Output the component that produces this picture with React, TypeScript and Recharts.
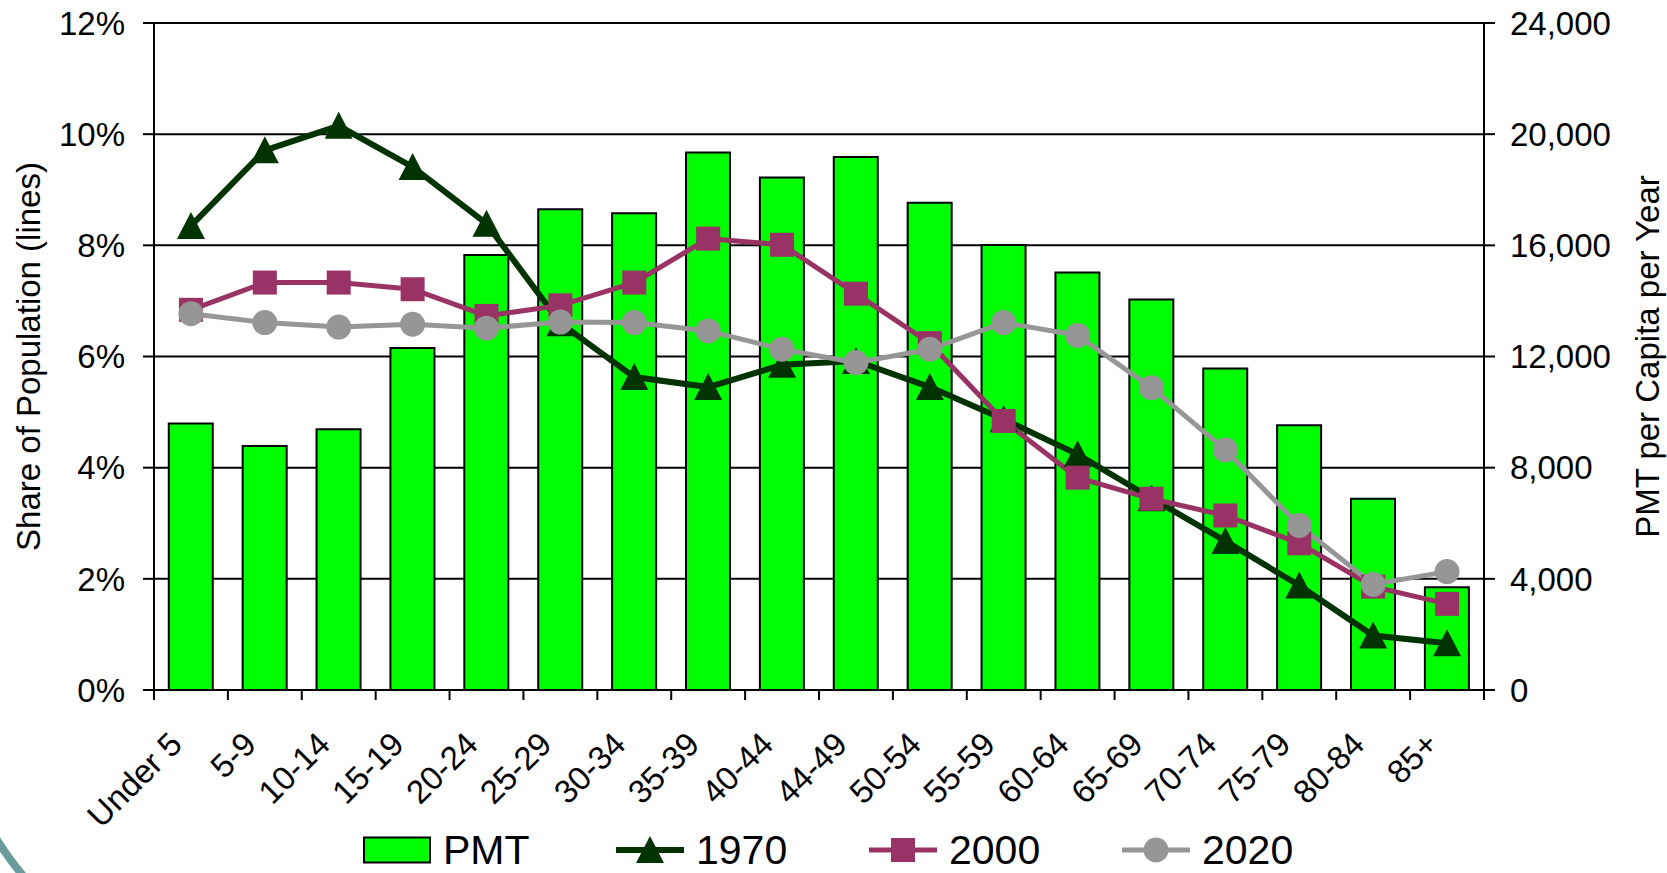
import React from "react";
import {
  ComposedChart,
  Bar,
  Line,
  XAxis,
  YAxis,
  CartesianGrid,
  Legend,
} from "recharts";

const categories = [
  "Under 5", "5-9", "10-14", "15-19", "20-24", "25-29", "30-34", "35-39", "40-44",
  "44-49", "50-54", "55-59", "60-64", "65-69", "70-74", "75-79", "80-84", "85+",
];
// PMT per capita per year (bars, right axis)
const pmt = [
  9590, 8780, 9380, 12310, 15650, 17300, 17150, 19340, 18440,
  19180, 17530, 16010, 15020, 14050, 11570, 9530, 6880, 3700,
];
// share of population, % (lines, left axis)
const share1970 = [
  8.35, 9.71, 10.15, 9.41, 8.39, 6.6, 5.63, 5.45, 5.85,
  5.92, 5.45, 4.87, 4.24, 3.45, 2.68, 1.88, 0.98, 0.84,
];
const share2000 = [
  6.84, 7.33, 7.33, 7.21, 6.73, 6.92, 7.33, 8.12, 8.01,
  7.13, 6.24, 4.84, 3.82, 3.44, 3.14, 2.64, 1.86, 1.55,
];
const share2020 = [
  6.77, 6.61, 6.53, 6.58, 6.51, 6.62, 6.61, 6.46, 6.13,
  5.89, 6.13, 6.61, 6.38, 5.44, 4.32, 2.96, 1.9, 2.13,
];
const leftTicks = [0, 2, 4, 6, 8, 10, 12];
const rightTicks = [0, 4000, 8000, 12000, 16000, 20000, 24000];

const data = categories.map((age, i) => ({
  age,
  pmt: pmt[i],
  y1970: share1970[i],
  y2000: share2000[i],
  y2020: share2020[i],
}));

const W = 1667;
const H = 873;
const LEFT_W = 154;
const RIGHT_W = 183;
const BAND = (W - LEFT_W - RIGHT_W) / categories.length;
const FONT = '"Liberation Sans", Arial, sans-serif';
const AXIS_FONT = 33;

const C1970 = "#003300";
const C2000 = "#993366";
const C2020 = "#969696";
const GREEN = "#00ff00";

const triangle = (cx: number, cy: number, fill: string, key?: any) => (
  <path
    key={key}
    d={`M${cx},${cy - 14} L${cx + 14},${cy + 13} L${cx - 14},${cy + 13} Z`}
    fill={fill}
  />
);
const square = (cx: number, cy: number, fill: string, key?: any) => (
  <rect key={key} x={cx - 12} y={cy - 12} width={24} height={24} fill={fill} />
);
const circle = (cx: number, cy: number, fill: string, key?: any) => (
  <circle key={key} cx={cx} cy={cy} r={12.5} fill={fill} />
);

function XTick(props: any) {
  const { x, y, payload, index } = props;
  const ax = x - 15;
  const ay = y + 48;
  return (
    <g>
      <line x1={x - BAND / 2} x2={x - BAND / 2} y1={y} y2={y + 10} stroke="#000" strokeWidth={2} />
      {index === categories.length - 1 && (
        <line x1={x + BAND / 2} x2={x + BAND / 2} y1={y} y2={y + 10} stroke="#000" strokeWidth={2} />
      )}
      <text
        x={ax}
        y={ay}
        dy="0.35em"
        textAnchor="end"
        transform={`rotate(-45, ${ax}, ${ay})`}
        fontSize={AXIS_FONT}
        fontFamily={FONT}
        fill="#000"
      >
        {payload.value}
      </text>
    </g>
  );
}

function AxisTitle(props: any) {
  const { viewBox, cx, text } = props;
  const cy = viewBox ? viewBox.y + viewBox.height / 2 : 356;
  return (
    <text
      x={cx}
      y={cy}
      dy="0.35em"
      textAnchor="middle"
      transform={`rotate(-90, ${cx}, ${cy})`}
      fontSize={AXIS_FONT}
      fontFamily={FONT}
      fill="#000"
    >
      {text}
    </text>
  );
}

const legendItems = [
  { name: "PMT", kind: "bar" },
  { name: "1970", kind: "line", color: C1970, marker: triangle, width: 6 },
  { name: "2000", kind: "line", color: C2000, marker: square, width: 5 },
  { name: "2020", kind: "line", color: C2020, marker: circle, width: 5 },
];

function LegendContent() {
  return (
    <div style={{ display: "flex", paddingLeft: 363, height: 48, alignItems: "center" }}>
      {legendItems.map((it: any) => (
        <div key={it.name} style={{ width: 253, display: "flex", alignItems: "center" }}>
          <svg width={68} height={32} style={{ display: "block" }}>
            {it.kind === "bar" ? (
              <rect x={1} y={3.5} width={66} height={25} fill={GREEN} stroke="#000" strokeWidth={2} />
            ) : (
              <g>
                <line x1={0} x2={68} y1={16} y2={16} stroke={it.color} strokeWidth={it.width} />
                {it.marker(34, 16, it.color)}
              </g>
            )}
          </svg>
          <span
            style={{
              marginLeft: 12,
              fontSize: 41,
              lineHeight: "normal",
              fontFamily: FONT,
              color: "#000",
              whiteSpace: "nowrap",
            }}
          >
            {it.name}
          </span>
        </div>
      ))}
    </div>
  );
}

export default function App() {
  return (
    <div
      style={{
        position: "absolute",
        left: 0,
        top: 0,
        width: W,
        height: H,
        background: "#fff",
        overflow: "hidden",
      }}
    >
      <svg width={40} height={60} style={{ position: "absolute", left: 0, top: 813 }}>
        <path d="M-6,22 Q6,42 24,64" fill="none" stroke="#6b9c9c" strokeWidth={8} />
      </svg>
      <ComposedChart
        width={W}
        height={H}
        data={data}
        margin={{ top: 23, right: 0, bottom: 0, left: 0 }}
        barCategoryGap="20%"
      >
        <CartesianGrid yAxisId="left" vertical={false} stroke="#000" strokeWidth={2} />
        <XAxis
          dataKey="age"
          height={H - 23 - 667}
          interval={0}
          tickLine={false}
          tickSize={0}
          tickMargin={0}
          axisLine={{ stroke: "#000", strokeWidth: 2 }}
          tick={<XTick />}
        />
        <YAxis
          yAxisId="left"
          orientation="left"
          width={LEFT_W}
          domain={[0, 12]}
          ticks={leftTicks}
          interval={0}
          tickFormatter={(v: number) => `${v}%`}
          tickSize={11}
          tickMargin={18}
          tick={{ fontSize: AXIS_FONT, fontFamily: FONT, fill: "#000" }}
          tickLine={{ stroke: "#000", strokeWidth: 2 }}
          axisLine={{ stroke: "#000", strokeWidth: 2 }}
          label={{
            position: "insideLeft",
            content: (p: any) => <AxisTitle viewBox={p.viewBox} cx={28} text="Share of Population (lines)" />,
          }}
        />
        <YAxis
          yAxisId="right"
          orientation="right"
          width={RIGHT_W}
          domain={[0, 24000]}
          ticks={rightTicks}
          interval={0}
          tickFormatter={(v: number) => v.toLocaleString("en-US")}
          tickSize={11}
          tickMargin={15}
          tick={{ fontSize: AXIS_FONT, fontFamily: FONT, fill: "#000" }}
          tickLine={{ stroke: "#000", strokeWidth: 2 }}
          axisLine={{ stroke: "#000", strokeWidth: 2 }}
          label={{
            position: "insideRight",
            content: (p: any) => <AxisTitle viewBox={p.viewBox} cx={W - 20} text="PMT per Capita per Year" />,
          }}
        />
        <Legend
          layout="horizontal"
          verticalAlign="middle"
          align="center"
          wrapperStyle={{ top: 826, left: 0, width: W, height: 48 }}
          content={() => <LegendContent />}
        />
        <Bar
          yAxisId="right"
          dataKey="pmt"
          name="PMT"
          fill={GREEN}
          stroke="#000"
          strokeWidth={2}
          isAnimationActive={false}
        />
        <Line
          yAxisId="left"
          dataKey="y1970"
          name="1970"
          type="linear"
          stroke={C1970}
          strokeWidth={6}
          dot={(p: any) => triangle(p.cx, p.cy, C1970, p.index)}
          activeDot={false}
          isAnimationActive={false}
        />
        <Line
          yAxisId="left"
          dataKey="y2000"
          name="2000"
          type="linear"
          stroke={C2000}
          strokeWidth={5}
          dot={(p: any) => square(p.cx, p.cy, C2000, p.index)}
          activeDot={false}
          isAnimationActive={false}
        />
        <Line
          yAxisId="left"
          dataKey="y2020"
          name="2020"
          type="linear"
          stroke={C2020}
          strokeWidth={5}
          dot={(p: any) => circle(p.cx, p.cy, C2020, p.index)}
          activeDot={false}
          isAnimationActive={false}
        />
      </ComposedChart>
    </div>
  );
}
